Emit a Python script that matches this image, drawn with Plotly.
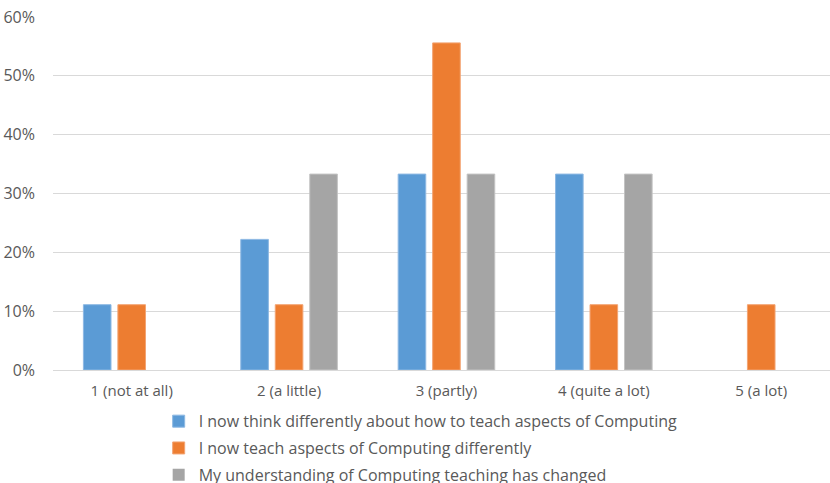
import plotly.graph_objects as go

categories = ["1 (not at all)", "2 (a little)", "3 (partly)", "4 (quite a lot)", "5 (a lot)"]
think_differently = [0.111, 0.222, 0.333, 0.333, 0.0]
teach_differently = [0.111, 0.111, 0.556, 0.111, 0.111]
understanding_changed = [0.0, 0.333, 0.333, 0.333, 0.0]
series_names = [
    "I now think differently about how to teach aspects of Computing",
    "I now teach aspects of Computing differently",
    "My understanding of Computing teaching has changed",
]
colors = ["#5B9BD5", "#ED7D31", "#A5A5A5"]
edge_colors = ["#8DB8E3", "#F3A473", "#C3C3C3"]
y_ticks = [0, 0.1, 0.2, 0.3, 0.4, 0.5, 0.6]

font_family = "Open Sans, Noto Sans, sans-serif"
text_color = "#595959"

fig = go.Figure()
for i, (name, vals) in enumerate(zip(series_names,
                                     [think_differently, teach_differently, understanding_changed])):
    # no outline on empty bars so they stay invisible
    widths = [1 if v > 0 else 0 for v in vals]
    fig.add_trace(go.Bar(
        x=list(range(len(categories))),
        y=vals,
        name=name,
        legendgroup=f"g{i}",
        marker=dict(color=colors[i], line=dict(color=edge_colors[i], width=widths)),
        hoverinfo="x+y",
    ))

fig.update_layout(
    width=830,
    height=483,
    margin=dict(l=53, r=0, t=17, b=113, autoexpand=False),
    paper_bgcolor="white",
    plot_bgcolor="white",
    barmode="group",
    bargap=0.3425,
    bargroupgap=0.2,
    font=dict(family=font_family, color=text_color, size=14),
    showlegend=True,
    legend=dict(
        orientation="v",
        x=0.136,
        xanchor="left",
        y=-0.097,
        yanchor="top",
        font=dict(size=16, color=text_color),
        tracegroupgap=3,
        itemwidth=30,
        bgcolor="rgba(0,0,0,0)",
    ),
    xaxis=dict(
        tickmode="array",
        tickvals=list(range(len(categories))),
        ticktext=categories,
        range=[-0.5, 4.437],
        showgrid=False,
        zeroline=False,
        showline=False,
        ticks="",
        tickfont=dict(size=15, color=text_color),
        ticklabelstandoff=10,
        automargin=False,
    ),
    yaxis=dict(
        range=[0, 0.6],
        tickvals=y_ticks,
        tickformat=".0%",
        showgrid=True,
        gridcolor="#D9D9D9",
        gridwidth=1,
        zeroline=True,
        zerolinecolor="#D9D9D9",
        zerolinewidth=1,
        showline=False,
        ticks="",
        tickfont=dict(size=16, color=text_color),
        ticklabelstandoff=17,
        automargin=False,
    ),
)

fig.write_html("out.html")
